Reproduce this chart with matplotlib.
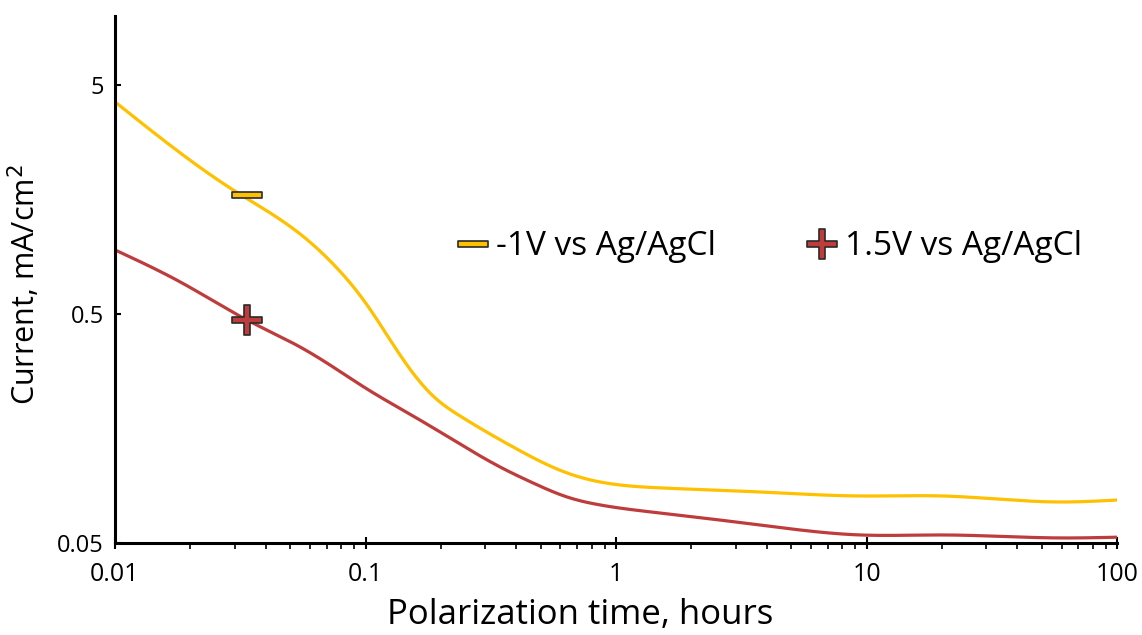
import matplotlib
matplotlib.use("Agg")
import matplotlib.pyplot as plt
from matplotlib.path import Path
import numpy as np

plt.rcParams['font.family'] = ['Open Sans', 'DejaVu Sans']

# Data (hours, mA/cm^2)
time_neg = [0.01, 0.01613, 0.02959, 0.05477, 0.0742, 0.1014, 0.1373, 0.186,
            0.2383, 0.388, 0.6373, 0.863, 1.498, 3.757, 9.421, 20.2, 59.22, 100]
current_neg = [4.215, 2.791, 1.740, 1.118, 0.8266, 0.5474, 0.3311, 0.2192,
               0.1793, 0.1313, 0.1011, 0.09234, 0.0870, 0.0835, 0.0802, 0.0802,
               0.0755, 0.0770]
time_pos = [0.01, 0.01851, 0.0336, 0.05477, 0.0742, 0.1014, 0.1547, 0.2077, 0.3441,
            0.4664, 0.6373, 0.863, 1.498, 3.757, 9.421, 20.2, 59.22, 100]
current_pos = [0.9516, 0.683, 0.4709, 0.3588, 0.2934, 0.2351, 0.1793, 0.1481,
               0.1074, 0.0914, 0.0794, 0.0733, 0.0676, 0.0599, 0.0542, 0.0542,
               0.0526, 0.0530]
marker_time = [0.0336]
marker_neg = [1.654]
marker_pos = [0.4709]

series_labels = ['-1V vs Ag/AgCl', '1.5V vs Ag/AgCl']
x_ticks = [0.01, 0.1, 1, 10, 100]
x_ticklabels = ['0.01', '0.1', '1', '10', '100']
y_ticks = [0.05, 0.5, 5]
y_ticklabels = ['0.05', '0.5', '5']

c_neg = '#FFC000'
c_pos = '#BE3C3C'
c_edge = '#2a2a2a'

t = 0.2
bar_marker = Path([(-1, -t), (1, -t), (1, t), (-1, t), (-1, -t)],
                  [Path.MOVETO, Path.LINETO, Path.LINETO, Path.LINETO, Path.CLOSEPOLY])
plus_verts = [(-1, -t), (-t, -t), (-t, -1), (t, -1), (t, -t), (1, -t), (1, t),
              (t, t), (t, 1), (-t, 1), (-t, t), (-1, t), (-1, -t)]
plus_marker = Path(plus_verts, [Path.MOVETO] + [Path.LINETO] * 11 + [Path.CLOSEPOLY])


def smooth(xs, ys, n=600):
    """Natural cubic spline through the points in log-log space."""
    x = np.log10(np.asarray(xs, float))
    y = np.log10(np.asarray(ys, float))
    npts = len(x)
    h = np.diff(x)
    A = np.zeros((npts, npts))
    b = np.zeros(npts)
    A[0, 0] = A[-1, -1] = 1
    for i in range(1, npts - 1):
        A[i, i - 1] = h[i - 1]
        A[i, i] = 2 * (h[i - 1] + h[i])
        A[i, i + 1] = h[i]
        b[i] = 6 * ((y[i + 1] - y[i]) / h[i] - (y[i] - y[i - 1]) / h[i - 1])
    M = np.linalg.solve(A, b)
    grid = np.linspace(x[0], x[-1], n)
    out = np.empty_like(grid)
    for j, g in enumerate(grid):
        k = int(np.clip(np.searchsorted(x, g) - 1, 0, npts - 2))
        a = x[k + 1] - g
        c = g - x[k]
        out[j] = (M[k] * a**3 / (6 * h[k]) + M[k + 1] * c**3 / (6 * h[k])
                  + (y[k] / h[k] - M[k] * h[k] / 6) * a
                  + (y[k + 1] / h[k] - M[k + 1] * h[k] / 6) * c)
    return 10**grid, 10**out


fig = plt.figure(figsize=(11.42, 6.35), dpi=100)
ax = fig.add_axes([0.1007, 0.1449, 0.8775, 0.83])

xs, ys = smooth(time_neg, current_neg)
ax.plot(xs, ys, color=c_neg, lw=2.3, solid_capstyle='round')
xs, ys = smooth(time_pos, current_pos)
ax.plot(xs, ys, color=c_pos, lw=2.3, solid_capstyle='round')

ax.plot(marker_time, marker_neg, linestyle='none', marker=bar_marker, markersize=21,
        markerfacecolor=c_neg, markeredgecolor=c_edge, markeredgewidth=1.2, zorder=5)
ax.plot(marker_time, marker_pos, linestyle='none', marker=plus_marker, markersize=21,
        markerfacecolor=c_pos, markeredgecolor=c_edge, markeredgewidth=1.2, zorder=5)

# legend proxies
h1, = ax.plot([], [], linestyle='none', marker=bar_marker, markersize=21,
              markerfacecolor=c_neg, markeredgecolor=c_edge, markeredgewidth=1.2)
h2, = ax.plot([], [], linestyle='none', marker=plus_marker, markersize=21,
              markerfacecolor=c_pos, markeredgecolor=c_edge, markeredgewidth=1.2)
ax.legend([h1, h2], series_labels, loc='center left', bbox_to_anchor=(0.341, 0.562),
          ncol=2, frameon=False, fontsize=24, handletextpad=0.18, columnspacing=2.68,
          handlelength=1.0, borderpad=0, borderaxespad=0)

ax.set_xscale('log')
ax.set_yscale('log')
ax.set_xlim(0.01, 100)
ax.set_ylim(0.05, 10)
ax.set_xticks(x_ticks)
ax.set_xticklabels(x_ticklabels)
ax.set_yticks(y_ticks)
ax.set_yticklabels(y_ticklabels)
ax.yaxis.set_minor_locator(matplotlib.ticker.NullLocator())
ax.xaxis.set_minor_formatter(matplotlib.ticker.NullFormatter())

for s in ['top', 'right']:
    ax.spines[s].set_visible(False)
for s in ['left', 'bottom']:
    ax.spines[s].set_linewidth(2.2)
    ax.spines[s].set_color('black')

ax.tick_params(axis='x', which='major', direction='inout', length=8, width=1.5,
               labelsize=18, pad=10)
ax.tick_params(axis='x', which='minor', direction='out', length=4, width=1.2)
ax.tick_params(axis='y', which='major', direction='in', length=4, width=1.5,
               labelsize=17, pad=8)

ax.set_xlabel('Polarization time, hours', fontsize=25)
ax.xaxis.set_label_coords(0.464, -0.105)
ax.set_ylabel('Current, mA/cm$^2$', fontsize=22)
ax.yaxis.set_label_coords(-0.072, 0.49)

fig.savefig('out.png', dpi=100)
